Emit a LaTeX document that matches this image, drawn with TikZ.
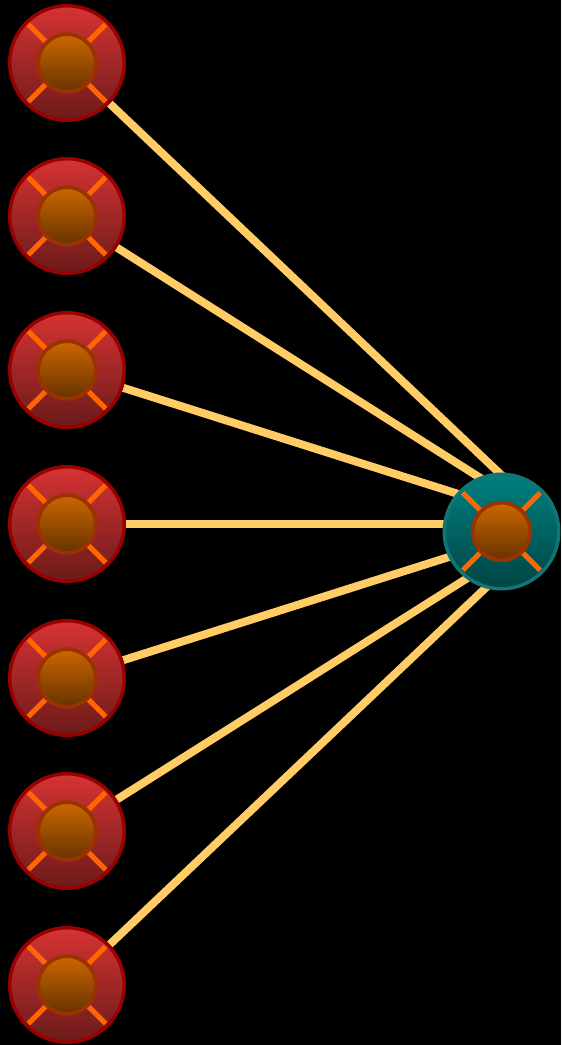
\documentclass[tikz,border=0pt]{standalone}
\pgfdeclarelayer{back}
\pgfdeclarelayer{edges}
\pgfsetlayers{back,edges,main}
\definecolor{redtop}{HTML}{D63333}
\definecolor{redbot}{HTML}{6B1A1A}
\definecolor{redline}{HTML}{990000}
\definecolor{tealtop}{HTML}{008080}
\definecolor{tealbot}{HTML}{004444}
\definecolor{tealline}{HTML}{127474}
\definecolor{coretop}{HTML}{CC6600}
\definecolor{corebot}{HTML}{663300}
\definecolor{coreline}{HTML}{993300}
\definecolor{spoke}{HTML}{FF6600}
\definecolor{wire}{HTML}{FFCC66}
\tikzset{
  buoy/.style={circle,inner sep=0pt,minimum size=85.9pt,line width=2.6pt,
    path picture={
      \draw[line width=3.75pt,spoke]
        ([shift={(-29pt,-29pt)}]path picture bounding box.center) -- ([shift={(29pt,29pt)}]path picture bounding box.center)
        ([shift={(-29pt,29pt)}]path picture bounding box.center) -- ([shift={(29pt,-29pt)}]path picture bounding box.center);
      \draw[line width=2.8pt,draw=coreline,top color=coretop,bottom color=corebot]
        (path picture bounding box.center) circle[radius=21.6pt];
    }},
  leaf/.style={buoy,draw=redline,top color=redtop,bottom color=redbot},
  hub/.style={buoy,draw=tealline,top color=tealtop,bottom color=tealbot}
}
\begin{document}
\begin{tikzpicture}
  [x=0.75pt,y=-0.75pt]
  \begin{pgfonlayer}{back}
    \fill[black] (0,0) rectangle (561,1045);
  \end{pgfonlayer}

  \node[leaf] (n1) at (67,63) {};
  \node[leaf] (n2) at (67,216) {};
  \node[leaf] (n3) at (67,370) {};
  \node[leaf] (n4) at (67,524) {};
  \node[leaf] (n5) at (67,678) {};
  \node[leaf] (n6) at (67,831) {};
  \node[leaf] (n7) at (67,985) {};
  \node[hub] (h) at (501.5,531.5) {};
  \coordinate (hx) at (553,524);

  \begin{pgfonlayer}{edges}
  \foreach \from in {n1,n2,n3,n4,n5,n6,n7}
    \draw[wire,line width=6pt] (\from) -- (hx);
  \end{pgfonlayer}
\end{tikzpicture}
\end{document}
